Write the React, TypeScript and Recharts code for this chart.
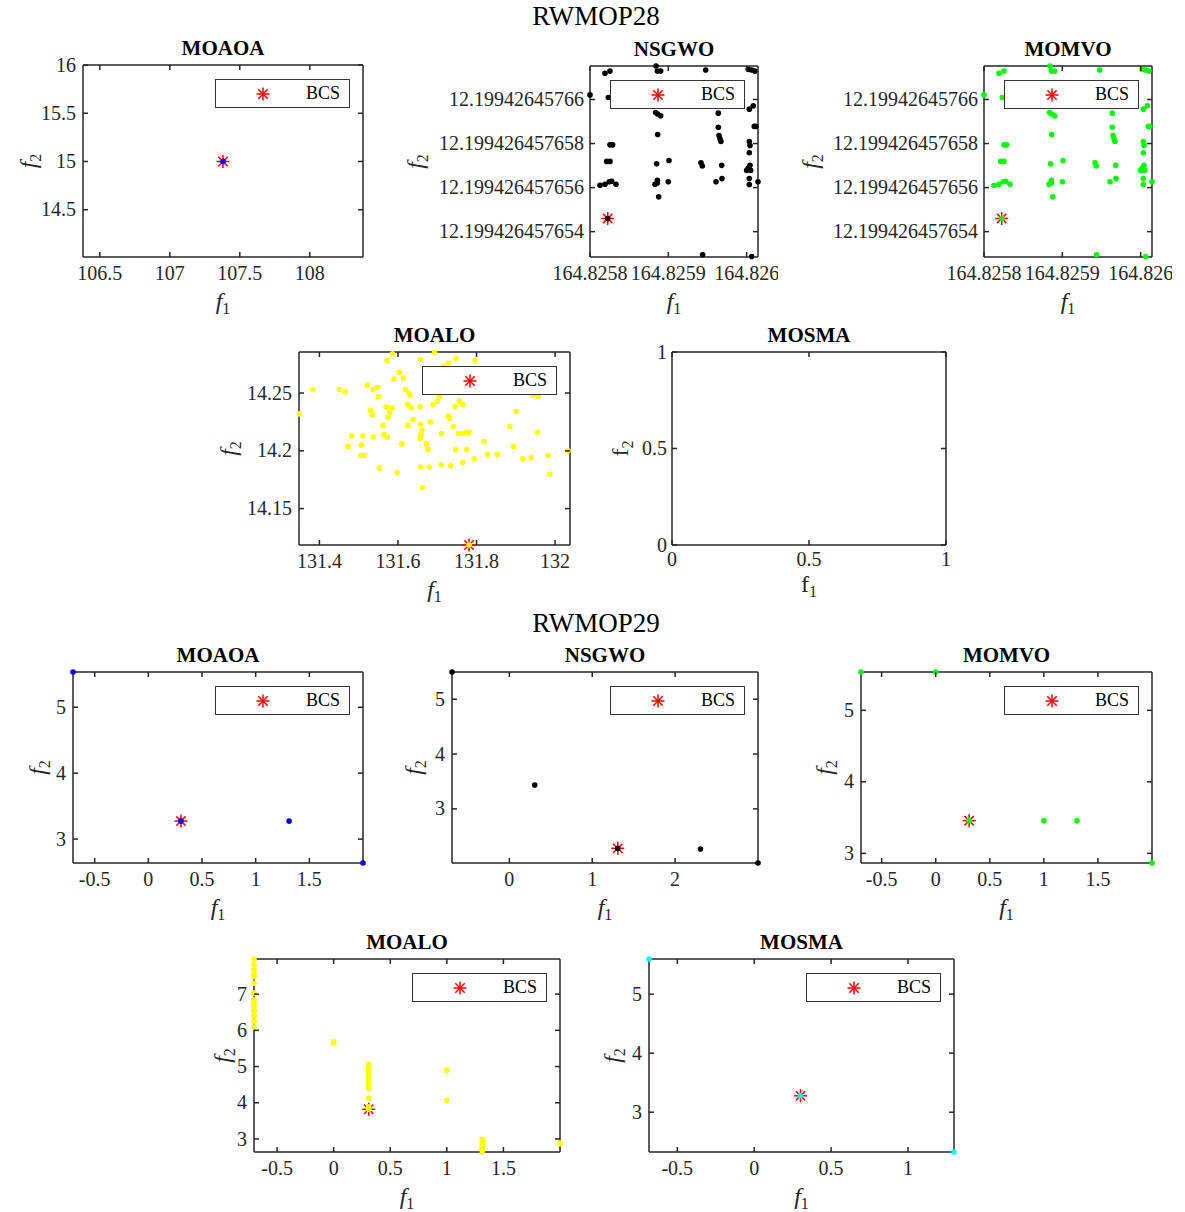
import { ScatterChart, Scatter, XAxis, YAxis, Legend, ReferenceLine } from 'recharts'

type Pt = { f1: number; f2: number }

const FONT = '"Liberation Serif", "Times New Roman", serif'
const INK = '#262626'

// ---------- RWMOP28 ----------
const moaoa28: Pt[] = [{ f1: 107.38, f2: 15 }]
const moaoa28Best: Pt[] = [{ f1: 107.38, f2: 15 }]

const nsgwo28: Pt[] = [
  { f1: 164.8258191, f2: 12.19942645766119 },
  { f1: 164.8258255, f2: 12.19942645766129 },
  { f1: 164.8258, f2: 12.19942645766021 },
  { f1: 164.8258234, f2: 12.19942645766009 },
  { f1: 164.8258255, f2: 12.19942645765794 },
  { f1: 164.8258289, f2: 12.19942645765794 },
  { f1: 164.8258213, f2: 12.19942645765719 },
  { f1: 164.8258255, f2: 12.19942645765719 },
  { f1: 164.8258128, f2: 12.19942645765611 },
  { f1: 164.8258191, f2: 12.19942645765615 },
  { f1: 164.8258247, f2: 12.19942645765626 },
  { f1: 164.8258277, f2: 12.19942645765629 },
  { f1: 164.8258332, f2: 12.19942645765615 },
  { f1: 164.8258226, f2: 12.1994264576546 },
  { f1: 164.8258843, f2: 12.19942645766152 },
  { f1: 164.825886, f2: 12.19942645766129 },
  { f1: 164.8258902, f2: 12.19942645766129 },
  { f1: 164.8258838, f2: 12.19942645765941 },
  { f1: 164.8258864, f2: 12.19942645765934 },
  { f1: 164.8258902, f2: 12.19942645765926 },
  { f1: 164.8258864, f2: 12.19942645765841 },
  { f1: 164.8258851, f2: 12.19942645765708 },
  { f1: 164.8259009, f2: 12.19942645765723 },
  { f1: 164.825883, f2: 12.19942645765615 },
  { f1: 164.825886, f2: 12.19942645765621 },
  { f1: 164.825886, f2: 12.19942645765633 },
  { f1: 164.8259, f2: 12.19942645765626 },
  { f1: 164.8258877, f2: 12.19942645765558 },
  { f1: 164.8259477, f2: 12.19942645766134 },
  { f1: 164.8259438, f2: 12.19942645765295 },
  { f1: 164.8259417, f2: 12.19942645765713 },
  { f1: 164.8259434, f2: 12.19942645765698 },
  { f1: 164.8259609, f2: 12.19942645765626 },
  { f1: 164.8259685, f2: 12.19942645765641 },
  { f1: 164.8259681, f2: 12.19942645765701 },
  { f1: 164.8259638, f2: 12.19942645765938 },
  { f1: 164.8259638, f2: 12.19942645765874 },
  { f1: 164.8259647, f2: 12.19942645765836 },
  { f1: 164.825966, f2: 12.19942645765821 },
  { f1: 164.8259672, f2: 12.19942645765809 },
  { f1: 164.8260021, f2: 12.19942645766137 },
  { f1: 164.8260064, f2: 12.19942645766134 },
  { f1: 164.8260106, f2: 12.19942645766129 },
  { f1: 164.8260034, f2: 12.19942645765956 },
  { f1: 164.8260085, f2: 12.19942645765971 },
  { f1: 164.8260098, f2: 12.19942645765878 },
  { f1: 164.8260119, f2: 12.19942645765878 },
  { f1: 164.8260034, f2: 12.19942645765809 },
  { f1: 164.8260043, f2: 12.19942645765791 },
  { f1: 164.8260034, f2: 12.19942645765758 },
  { f1: 164.8260043, f2: 12.19942645765701 },
  { f1: 164.8260021, f2: 12.19942645765689 },
  { f1: 164.826, f2: 12.19942645765678 },
  { f1: 164.8260051, f2: 12.19942645765678 },
  { f1: 164.8260034, f2: 12.19942645765641 },
  { f1: 164.8260034, f2: 12.19942645765614 },
  { f1: 164.8260145, f2: 12.19942645765626 },
  { f1: 164.8260064, f2: 12.19942645765287 },
]
const nsgwo28Best: Pt[] = [{ f1: 164.8258226, f2: 12.1994264576546 }]
// the MOMVO front in the source figure is the same set of points as NSGWO
const momvo28: Pt[] = nsgwo28
const momvo28Best: Pt[] = nsgwo28Best

const moalo28: Pt[] = [
  { f1: 131.349, f2: 14.232 }, { f1: 131.383, f2: 14.253 }, { f1: 131.451, f2: 14.253 },
  { f1: 131.466, f2: 14.251 }, { f1: 131.522, f2: 14.257 }, { f1: 131.537, f2: 14.253 },
  { f1: 131.548, f2: 14.255 }, { f1: 131.55, f2: 14.247 }, { f1: 131.53, f2: 14.235 },
  { f1: 131.535, f2: 14.231 }, { f1: 131.562, f2: 14.222 }, { f1: 131.572, f2: 14.278 },
  { f1: 131.586, f2: 14.284 }, { f1: 131.57, f2: 14.238 }, { f1: 131.575, f2: 14.229 },
  { f1: 131.579, f2: 14.233 }, { f1: 131.586, f2: 14.237 }, { f1: 131.59, f2: 14.262 },
  { f1: 131.604, f2: 14.268 }, { f1: 131.614, f2: 14.263 }, { f1: 131.619, f2: 14.253 },
  { f1: 131.628, f2: 14.25 }, { f1: 131.631, f2: 14.248 }, { f1: 131.625, f2: 14.24 },
  { f1: 131.634, f2: 14.237 }, { f1: 131.638, f2: 14.227 }, { f1: 131.625, f2: 14.222 },
  { f1: 131.657, f2: 14.279 }, { f1: 131.693, f2: 14.285 }, { f1: 131.716, f2: 14.273 },
  { f1: 131.729, f2: 14.276 }, { f1: 131.748, f2: 14.28 }, { f1: 131.796, f2: 14.278 },
  { f1: 131.657, f2: 14.238 }, { f1: 131.657, f2: 14.223 }, { f1: 131.661, f2: 14.218 },
  { f1: 131.659, f2: 14.214 }, { f1: 131.657, f2: 14.211 }, { f1: 131.672, f2: 14.206 },
  { f1: 131.676, f2: 14.201 }, { f1: 131.682, f2: 14.225 }, { f1: 131.689, f2: 14.24 },
  { f1: 131.7, f2: 14.243 }, { f1: 131.706, f2: 14.247 }, { f1: 131.711, f2: 14.215 },
  { f1: 131.728, f2: 14.23 }, { f1: 131.731, f2: 14.228 }, { f1: 131.741, f2: 14.221 },
  { f1: 131.745, f2: 14.238 }, { f1: 131.756, f2: 14.243 }, { f1: 131.765, f2: 14.24 },
  { f1: 131.754, f2: 14.215 }, { f1: 131.765, f2: 14.215 }, { f1: 131.775, f2: 14.216 },
  { f1: 131.781, f2: 14.216 }, { f1: 131.747, f2: 14.201 }, { f1: 131.775, f2: 14.201 },
  { f1: 131.765, f2: 14.19 }, { f1: 131.794, f2: 14.193 }, { f1: 131.819, f2: 14.208 },
  { f1: 131.828, f2: 14.197 }, { f1: 131.853, f2: 14.197 }, { f1: 131.61, f2: 14.206 },
  { f1: 131.473, f2: 14.204 }, { f1: 131.482, f2: 14.213 }, { f1: 131.507, f2: 14.205 },
  { f1: 131.511, f2: 14.213 }, { f1: 131.537, f2: 14.212 }, { f1: 131.564, f2: 14.214 },
  { f1: 131.573, f2: 14.212 }, { f1: 131.505, f2: 14.196 }, { f1: 131.515, f2: 14.196 },
  { f1: 131.553, f2: 14.185 }, { f1: 131.598, f2: 14.181 }, { f1: 131.658, f2: 14.186 },
  { f1: 131.68, f2: 14.186 }, { f1: 131.71, f2: 14.188 }, { f1: 131.734, f2: 14.187 },
  { f1: 131.662, f2: 14.168 }, { f1: 131.885, f2: 14.221 }, { f1: 131.901, f2: 14.234 },
  { f1: 131.895, f2: 14.204 }, { f1: 131.918, f2: 14.193 }, { f1: 131.939, f2: 14.194 },
  { f1: 131.955, f2: 14.216 }, { f1: 131.944, f2: 14.248 }, { f1: 131.957, f2: 14.247 },
  { f1: 131.982, f2: 14.196 }, { f1: 131.986, f2: 14.18 }, { f1: 132.033, f2: 14.2 },
  { f1: 131.781, f2: 14.1185 },
]
const moalo28Best: Pt[] = [{ f1: 131.781, f2: 14.1185 }]

// ---------- RWMOP29 ----------
const moaoa29: Pt[] = [
  { f1: -0.702, f2: 5.535 }, { f1: 0.304, f2: 3.273 }, { f1: 1.311, f2: 3.273 }, { f1: 2.0, f2: 2.637 },
]
const moaoa29Best: Pt[] = [{ f1: 0.304, f2: 3.273 }]

const nsgwo29: Pt[] = [
  { f1: -0.692, f2: 5.497 }, { f1: 0.306, f2: 3.436 }, { f1: 1.308, f2: 2.279 },
  { f1: 2.306, f2: 2.267 }, { f1: 3.0, f2: 2.012 },
]
const nsgwo29Best: Pt[] = [{ f1: 1.308, f2: 2.279 }]

const momvo29: Pt[] = [
  { f1: -0.691, f2: 5.536 }, { f1: 0, f2: 5.536 }, { f1: 0.309, f2: 3.457 },
  { f1: 1.0, f2: 3.457 }, { f1: 1.306, f2: 3.457 }, { f1: 2.0, f2: 2.865 },
]
const momvo29Best: Pt[] = [{ f1: 0.309, f2: 3.457 }]

const moalo29: Pt[] = [
  { f1: -0.704, f2: 7.96 }, { f1: -0.704, f2: 7.81 }, { f1: -0.704, f2: 7.67 },
  { f1: -0.704, f2: 7.54 }, { f1: -0.704, f2: 7.49 }, { f1: -0.704, f2: 7.3 },
  { f1: -0.704, f2: 7.03 }, { f1: -0.704, f2: 6.84 }, { f1: -0.704, f2: 6.73 },
  { f1: -0.704, f2: 6.64 }, { f1: -0.704, f2: 6.55 }, { f1: -0.704, f2: 6.4 },
  { f1: -0.704, f2: 6.24 }, { f1: -0.704, f2: 6.09 },
  { f1: 0, f2: 5.68 }, { f1: 0, f2: 5.65 },
  { f1: 0.31, f2: 5.06 }, { f1: 0.31, f2: 5.0 }, { f1: 0.31, f2: 4.9 },
  { f1: 0.31, f2: 4.81 }, { f1: 0.31, f2: 4.72 }, { f1: 0.31, f2: 4.63 },
  { f1: 0.31, f2: 4.53 }, { f1: 0.31, f2: 4.44 }, { f1: 0.31, f2: 4.39 },
  { f1: 0.31, f2: 4.12 }, { f1: 0.31, f2: 3.89 }, { f1: 0.31, f2: 3.82 },
  { f1: 1.0, f2: 4.9 }, { f1: 1.0, f2: 4.07 },
  { f1: 1.313, f2: 2.99 }, { f1: 1.313, f2: 2.92 }, { f1: 1.313, f2: 2.85 },
  { f1: 1.313, f2: 2.78 }, { f1: 1.313, f2: 2.71 }, { f1: 1.313, f2: 2.645 },
  { f1: 2.0, f2: 2.89 }, { f1: 2.0, f2: 2.87 },
]
const moalo29Best: Pt[] = [{ f1: 0.31, f2: 3.82 }]

const mosma29: Pt[] = [
  { f1: -0.684, f2: 5.595 }, { f1: 0.301, f2: 3.278 }, { f1: 1.299, f2: 2.326 },
]
const mosma29Best: Pt[] = [{ f1: 0.301, f2: 3.278 }]

// tick values
const ticksX28a = [106.5, 107, 107.5, 108]
const ticksY28a = [14.5, 15, 15.5, 16]
const ticksX28b = [164.8258, 164.8259, 164.826]
const ticksY28b = [12.199426457654, 12.199426457656, 12.199426457658, 12.19942645766]
const ticksX28c = [131.4, 131.6, 131.8, 132]
const ticksY28c = [14.15, 14.2, 14.25]
const ticksUnit = [0, 0.5, 1]
const ticksX29 = [-0.5, 0, 0.5, 1, 1.5]
const ticksX29n = [0, 1, 2]
const ticksX29s = [-0.5, 0, 0.5, 1]
const ticksY29 = [3, 4, 5]
const ticksY29l = [3, 4, 5, 6, 7]

const TOP = 45
const RIGHT = 20
const BOTTOM = 62
const TICK_FS = 20

const axisStyle = { stroke: INK, strokeWidth: 1.5 }

function Asterisk({ cx, cy }: { cx: number; cy: number }) {
  const r = 6.5
  const d = r * 0.72
  return (
    <g stroke="#ff0000" strokeWidth={1.5}>
      <line x1={cx - r} y1={cy} x2={cx + r} y2={cy} />
      <line x1={cx} y1={cy - r} x2={cx} y2={cy + r} />
      <line x1={cx - d} y1={cy - d} x2={cx + d} y2={cy + d} />
      <line x1={cx - d} y1={cy + d} x2={cx + d} y2={cy - d} />
    </g>
  )
}

const asteriskShape = (p: any) => <Asterisk cx={p.cx} cy={p.cy} />
const dotShape = (color: string) => (p: any) => <circle cx={p.cx} cy={p.cy} r={2.8} fill={color} />

function BcsLegend() {
  return (
    <div
      style={{
        width: 135,
        height: 29,
        boxSizing: 'border-box',
        border: '1px solid #333',
        background: '#fff',
        position: 'relative',
        fontFamily: FONT,
      }}
    >
      <svg width={20} height={20} style={{ position: 'absolute', left: 37, top: 4 }}>
        <Asterisk cx={10} cy={10} />
      </svg>
      <span style={{ position: 'absolute', left: 90, top: 3, fontSize: 18, lineHeight: '21px', color: '#000' }}>BCS</span>
    </div>
  )
}

// ticks point inward on all four sides of the box, like the MATLAB axes
const bottomTick = (bh: number, gap: number) => (p: any) => {
  const x = p.x
  const yb = TOP + bh
  return (
    <g>
      <line x1={x} x2={x} y1={yb} y2={yb - 5} {...axisStyle} />
      <line x1={x} x2={x} y1={TOP} y2={TOP + 5} {...axisStyle} />
      <text x={x} y={yb + gap + 6.6} textAnchor="middle" fontFamily={FONT} fontSize={TICK_FS} fill={INK}>
        {p.payload.value}
      </text>
    </g>
  )
}

const leftTick = (yw: number, bw: number, gap: number) => (p: any) => {
  const y = p.y
  return (
    <g>
      <line x1={yw} x2={yw + 5} y1={y} y2={y} {...axisStyle} />
      <line x1={yw + bw} x2={yw + bw - 5} y1={y} y2={y} {...axisStyle} />
      <text x={yw - gap} y={y + 6.6} textAnchor="end" fontFamily={FONT} fontSize={TICK_FS} fill={INK}>
        {p.payload.value}
      </text>
    </g>
  )
}

const xLabel = (title: string, bh: number, italic: boolean, gap: number) => (props: any) => {
  const vb = props.viewBox
  const cx = vb.x + vb.width / 2
  return (
    <g>
      <text x={cx} y={vb.y - bh - 10} textAnchor="middle" fontFamily={FONT} fontWeight="bold" fontSize={21} fill="#000">
        {title}
      </text>
      <text x={cx} y={vb.y + gap + 8} textAnchor="middle" fontFamily={FONT} fontSize={24} fill={INK}>
        <tspan fontStyle={italic ? 'italic' : 'normal'}>f</tspan>
        <tspan fontSize={16} dy={5}>1</tspan>
      </text>
    </g>
  )
}

const yLabel = (italic: boolean) => (props: any) => {
  const vb = props.viewBox
  const px = vb.x + 14 + 8
  const py = vb.y + vb.height / 2
  return (
    <text x={px} y={py} textAnchor="middle" transform={`rotate(-90 ${px} ${py})`} fontFamily={FONT} fontSize={24} fill={INK}>
      <tspan fontStyle={italic ? 'italic' : 'normal'}>f</tspan>
      <tspan fontSize={16} dy={5}>2</tspan>
    </text>
  )
}

interface PanelProps {
  title: string
  box: [number, number, number, number]
  labelGap: number
  xDomain: [number, number]
  yDomain: [number, number]
  xTicks: number[]
  yTicks: number[]
  points?: Pt[]
  best?: Pt[]
  color?: string
  italic?: boolean
  xLabelGap?: number
  xTickGap?: number
  yTickGap?: number
}

function Panel({
  title,
  box,
  labelGap,
  xDomain,
  yDomain,
  xTicks,
  yTicks,
  points = [],
  best = [],
  color = '#000',
  italic = true,
  xLabelGap = 44,
  xTickGap = 16,
  yTickGap = 7,
}: PanelProps) {
  const [bx, by, bw, bh] = box
  const yw = labelGap + 14
  const empty = points.length === 0 && best.length === 0
  return (
    <div style={{ position: 'absolute', left: bx - yw, top: by - TOP }}>
      <ScatterChart width={yw + bw + RIGHT} height={TOP + bh + BOTTOM} margin={{ top: TOP, right: RIGHT, bottom: 0, left: 0 }}>
        <XAxis
          xAxisId="b"
          type="number"
          dataKey="f1"
          domain={xDomain}
          ticks={xTicks}
          interval={0}
          height={BOTTOM}
          tickLine={false}
          tick={bottomTick(bh, xTickGap)}
          axisLine={axisStyle}
          allowDataOverflow={empty}
          label={xLabel(title, bh, italic, xLabelGap)}
        />
        <YAxis
          yAxisId="l"
          type="number"
          dataKey="f2"
          domain={yDomain}
          ticks={yTicks}
          interval={0}
          width={yw}
          tickLine={false}
          tick={leftTick(yw, bw, yTickGap)}
          axisLine={axisStyle}
          allowDataOverflow={empty}
          label={yLabel(italic)}
        />
        <ReferenceLine xAxisId="b" yAxisId="l" y={yDomain[1]} stroke={INK} strokeWidth={1.5} />
        <ReferenceLine xAxisId="b" yAxisId="l" x={xDomain[1]} stroke={INK} strokeWidth={1.5} />
        {best.length > 0 && (
          <Scatter xAxisId="b" yAxisId="l" name="BCS" data={best} shape={asteriskShape} isAnimationActive={false} />
        )}
        {points.length > 0 && (
          <Scatter xAxisId="b" yAxisId="l" name={title} data={points} shape={dotShape(color)} isAnimationActive={false} />
        )}
        {best.length > 0 && (
          <Legend
            layout="horizontal"
            verticalAlign="middle"
            align="center"
            wrapperStyle={{ left: yw + bw - 13 - 135, top: TOP + 13.5, width: 135, height: 29 }}
            content={() => <BcsLegend />}
          />
        )}
      </ScatterChart>
    </div>
  )
}

const supTitle = { position: 'absolute' as const, left: 0, width: 1192, textAlign: 'center' as const, fontSize: 27, fontFamily: FONT, color: '#000' }

export default function App() {
  return (
    <div style={{ position: 'absolute', left: 0, top: 0, width: 1185, height: 1212, background: '#fff', fontFamily: FONT }}>
      <div style={{ ...supTitle, top: 1 }}>RWMOP28</div>
      <Panel title="MOAOA" box={[83, 65, 280, 192]} labelGap={55} xDomain={[106.38, 108.38]} yDomain={[14.01, 16]}
        xTicks={ticksX28a} yTicks={ticksY28a} points={moaoa28} best={moaoa28Best} color="#0000ff" />
      <Panel title="NSGWO" box={[590, 66, 168, 191]} labelGap={175} xDomain={[164.8258, 164.8260145]}
        yDomain={[12.19942645765285, 12.19942645766152]} xTicks={ticksX28b} yTicks={ticksY28b}
        points={nsgwo28} best={nsgwo28Best} color="#000000" yTickGap={6} />
      <Panel title="MOMVO" box={[984, 66, 168, 191]} labelGap={174} xDomain={[164.8258, 164.8260145]}
        yDomain={[12.19942645765285, 12.19942645766152]} xTicks={ticksX28b} yTicks={ticksY28b}
        points={momvo28} best={momvo28Best} color="#00ff00" yTickGap={6} />
      <Panel title="MOALO" box={[299, 352, 271, 193]} labelGap={71} xDomain={[131.348, 132.038]} yDomain={[14.1185, 14.2855]}
        xTicks={ticksX28c} yTicks={ticksY28c} points={moalo28} best={moalo28Best} color="#ffff00" />
      <Panel title="MOSMA" box={[672, 352, 274, 193]} labelGap={52} xDomain={[0, 1]} yDomain={[0, 1]}
        xTicks={ticksUnit} yTicks={ticksUnit} italic={false} xLabelGap={39} xTickGap={14} yTickGap={5} />

      <div style={{ ...supTitle, top: 608 }}>RWMOP29</div>
      <Panel title="MOAOA" box={[73, 672, 290, 191]} labelGap={36} xDomain={[-0.702, 2.0]} yDomain={[2.637, 5.535]}
        xTicks={ticksX29} yTicks={ticksY29} points={moaoa29} best={moaoa29Best} color="#0000ff" />
      <Panel title="NSGWO" box={[452, 672, 306, 191]} labelGap={39} xDomain={[-0.692, 3.0]} yDomain={[2.012, 5.497]}
        xTicks={ticksX29n} yTicks={ticksY29} points={nsgwo29} best={nsgwo29Best} color="#000000" />
      <Panel title="MOMVO" box={[861, 672, 291, 191]} labelGap={37} xDomain={[-0.691, 2.0]} yDomain={[2.865, 5.536]}
        xTicks={ticksX29} yTicks={ticksY29} points={momvo29} best={momvo29Best} color="#00ff00" />
      <Panel title="MOALO" box={[254, 959, 306, 193]} labelGap={32} xDomain={[-0.704, 2.0]} yDomain={[2.64, 7.97]}
        xTicks={ticksX29} yTicks={ticksY29l} points={moalo29} best={moalo29Best} color="#ffff00" />
      <Panel title="MOSMA" box={[649, 959, 305, 193]} labelGap={37} xDomain={[-0.684, 1.299]} yDomain={[2.326, 5.595]}
        xTicks={ticksX29s} yTicks={ticksY29} points={mosma29} best={mosma29Best} color="#00ffff" />
    </div>
  )
}
